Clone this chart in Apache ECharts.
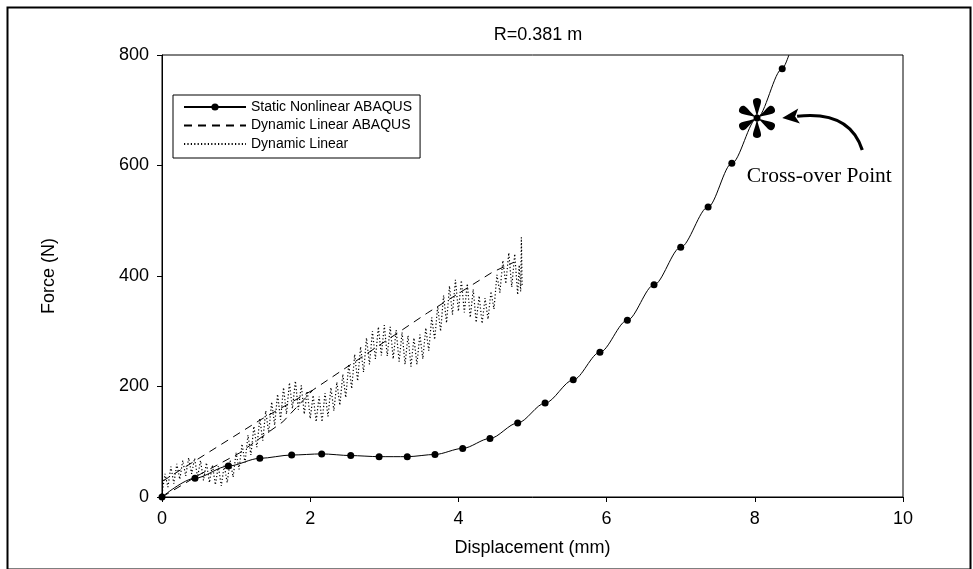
<!DOCTYPE html>
<html>
<head>
<meta charset="utf-8">
<script src="https://cdn.jsdelivr.net/npm/echarts@6/dist/echarts.min.js"></script>
<style>
html,body{margin:0;padding:0;background:#fff;}
#c{width:973px;height:569px;}
</style>
</head>
<body>
<div id="c"></div>
<script>
// ---- data ----
var titleText = 'R=0.381 m';
var xTicks = [0, 2, 4, 6, 8, 10];
var yTicks = [0, 200, 400, 600, 800];

// Static Nonlinear ABAQUS (markers)
var staticX = [0, 0.445, 0.895, 1.32, 1.75, 2.155, 2.547, 2.93, 3.31, 3.684, 4.058, 4.426, 4.80, 5.17, 5.55, 5.91, 6.28, 6.64, 7.00, 7.37, 7.69, 8.03, 8.37];
var staticY = [0, 34, 56, 70, 76, 78, 75, 73, 73, 77, 88, 106, 134, 170, 212, 262, 320, 384, 452, 525, 604, 686, 775];
// where the curve leaves the top of the plot
var staticExit = [8.46, 800];

// Dynamic Linear ABAQUS (dashed)
var abaqusX = [0, 0.5, 1.05, 1.63, 2.04, 3.58, 4.46, 4.75];
var abaqusY = [0, 40, 80, 136, 194, 333, 407, 425];
var abaqusUpperX = [0, 1.32, 2.04];
var abaqusUpperY = [28, 139, 194];

// Dynamic Linear (dotted, noisy)
var dynX = [0.00,0.04,0.08,0.12,0.16,0.20,0.24,0.28,0.32,0.36,0.40,0.44,0.48,0.52,0.56,0.60,0.64,0.68,0.72,0.76,
0.80,0.84,0.88,0.92,0.96,1.00,1.04,1.08,1.12,1.16,1.20,1.24,1.28,1.32,1.36,1.40,1.44,1.48,1.52,1.56,
1.60,1.64,1.68,1.72,1.76,1.80,1.84,1.88,1.92,1.96,2.00,2.04,2.08,2.12,2.16,2.20,2.24,2.28,2.32,2.36,
2.40,2.44,2.48,2.52,2.56,2.60,2.64,2.68,2.72,2.76,2.80,2.84,2.88,2.92,2.96,3.00,3.04,3.08,3.12,3.16,
3.20,3.24,3.28,3.32,3.36,3.40,3.44,3.48,3.52,3.56,3.60,3.64,3.68,3.72,3.76,3.80,3.84,3.88,3.92,3.96,
4.00,4.04,4.08,4.12,4.16,4.20,4.24,4.28,4.32,4.36,4.40,4.44,4.48,4.52,4.56,4.60,4.64,4.68,4.72,4.76,
4.80,4.82,4.84,4.85,4.86];
var dynY = [5,42,18,55,24,60,32,66,38,71,42,70,36,66,30,62,26,58,22,56,
20,57,26,66,36,80,50,96,62,112,76,128,90,142,102,156,116,172,130,186,
140,198,150,207,160,210,158,202,150,192,142,184,136,182,136,188,146,198,156,208,
166,222,180,240,196,258,210,272,226,288,240,300,250,308,256,311,255,308,250,302,
245,298,240,292,236,288,240,294,250,306,265,325,285,345,300,365,315,382,330,393,
336,392,334,386,325,376,316,364,314,360,322,372,340,402,370,428,386,442,380,440,
366,420,372,470,380];

// annotation
var crossPoint = [8.03, 686];
var crossLabelPos = [8.87, 581];
var arrowTail = [9.45, 628];
var arrowCtrl = [9.28, 700];
var arrowHead = [8.37, 686];
var crossLabel = 'Cross-over Point';

function pairs(xs, ys) { return xs.map(function (x, i) { return [x, ys[i]]; }); }

// six teardrop-spoked asterisk glyph
function asteriskPath() {
  var arm = [[0,0],[-0.05,-0.4],[-0.22,-0.7],[-0.2,-0.86],[-0.18,-1.04],[0.18,-1.04],[0.2,-0.86],[0.22,-0.7],[0.05,-0.4],[0,0]];
  var s = '';
  for (var k = 0; k < 6; k++) {
    var a = k * Math.PI / 3, c = Math.cos(a), sn = Math.sin(a);
    var p = arm.map(function (q) { return [(q[0]*c - q[1]*sn).toFixed(3), (q[0]*sn + q[1]*c).toFixed(3)]; });
    s += 'M' + p[0].join(' ');
    s += ' C' + p[1].join(' ') + ' ' + p[2].join(' ') + ' ' + p[3].join(' ');
    s += ' C' + p[4].join(' ') + ' ' + p[5].join(' ') + ' ' + p[6].join(' ');
    s += ' C' + p[7].join(' ') + ' ' + p[8].join(' ') + ' ' + p[9].join(' ') + ' Z ';
  }
  return 'path://' + s;
}

var staticData = pairs(staticX, staticY);
staticData.push({ value: staticExit, symbol: 'none' });

var FONT = 'Liberation Sans, Arial, sans-serif';
var chart = echarts.init(document.getElementById('c'), null, { renderer: 'canvas' });
var noSym = { color: 'transparent', borderWidth: 0 };
chart.setOption({
  animation: false,
  backgroundColor: '#fff',
  title: {
    text: titleText, left: 533, top: 21, textAlign: 'center',
    textStyle: { fontFamily: FONT, fontSize: 18, fontWeight: 'normal', color: '#000' }
  },
  legend: {
    orient: 'vertical', left: 173, top: 95,
    data: [
      { name: 'Static Nonlinear ABAQUS' },
      { name: 'Dynamic Linear ABAQUS', itemStyle: noSym },
      { name: 'Dynamic Linear', itemStyle: noSym }
    ],
    itemWidth: 62, itemHeight: 9, itemGap: 4.5,
    padding: [5, 8, 7, 10],
    borderColor: '#000', borderWidth: 1, borderRadius: 0,
    backgroundColor: '#fff',
    textStyle: { fontFamily: FONT, fontSize: 14, color: '#000' },
    selectedMode: false
  },
  grid: { left: 162, right: 70, top: 55, bottom: 72, show: true, borderColor: '#000', borderWidth: 1, backgroundColor: 'transparent' },
  xAxis: {
    type: 'value', min: 0, max: 10, interval: 2,
    name: 'Displacement (mm)', nameLocation: 'middle', nameGap: 42,
    nameTextStyle: { fontFamily: FONT, fontSize: 18, color: '#000' },
    axisLine: { onZero: false, lineStyle: { color: '#000', width: 1 } },
    axisTick: { show: true, inside: false, length: 5, lineStyle: { color: '#000' } },
    axisLabel: { fontFamily: FONT, fontSize: 18, color: '#000', margin: 13,
      formatter: function (v) { return xTicks.indexOf(v) >= 0 ? String(v) : ''; } },
    splitLine: { show: false }
  },
  yAxis: {
    type: 'value', min: 0, max: 800, interval: 200,
    name: 'Force (N)', nameLocation: 'middle', nameGap: 104, nameRotate: 90,
    nameTextStyle: { fontFamily: FONT, fontSize: 18, color: '#000' },
    axisLine: { show: true, onZero: false, lineStyle: { color: '#000', width: 1 } },
    axisTick: { show: true, inside: false, length: 5, lineStyle: { color: '#000' } },
    axisLabel: { fontFamily: FONT, fontSize: 18, color: '#000', margin: 13,
      formatter: function (v) { return yTicks.indexOf(v) >= 0 ? String(v) : ''; } },
    splitLine: { show: false }
  },
  series: [
    {
      name: 'Dynamic Linear', type: 'line', data: pairs(dynX, dynY),
      symbol: 'none', smooth: false, clip: true,
      lineStyle: { color: '#000', width: 1.2, type: [1.2, 2.2] },
      itemStyle: { color: '#000' }, z: 2
    },
    {
      name: 'Dynamic Linear ABAQUS', type: 'line', data: pairs(abaqusX, abaqusY),
      symbol: 'none', smooth: false,
      lineStyle: { color: '#000', width: 1, type: [8, 6] },
      itemStyle: { color: '#000' }, z: 3
    },
    {
      name: 'Dynamic Linear ABAQUS', type: 'line', data: pairs(abaqusUpperX, abaqusUpperY),
      symbol: 'none', smooth: false,
      lineStyle: { color: '#000', width: 1, type: [8, 6] },
      itemStyle: { color: '#000' }, z: 3
    },
    {
      name: 'Static Nonlinear ABAQUS', type: 'line', data: staticData,
      symbol: 'circle', symbolSize: 7, showAllSymbol: true, smooth: 0.3, smoothMonotone: 'x', clip: true,
      lineStyle: { color: '#000', width: 1 },
      itemStyle: { color: '#000', borderWidth: 0 }, z: 4
    },
    {
      name: 'annot', type: 'line', data: [], z: 6,
      markPoint: {
        silent: true, animation: false,
        data: [
          { coord: crossPoint, symbol: asteriskPath(), symbolSize: 40, symbolKeepAspect: true,
            itemStyle: { color: '#000' }, label: { show: false } },
          { coord: crossLabelPos, symbol: 'circle', symbolSize: 0,
            label: { show: true, position: 'inside', formatter: crossLabel,
              fontFamily: 'Liberation Serif, Times New Roman, serif', fontSize: 21.5, color: '#000' } }
        ]
      }
    }
  ]
});

// curved arrow + outer frame, placed through the chart's own coordinate conversion
var pT = chart.convertToPixel({ gridIndex: 0 }, arrowTail);
var pC = chart.convertToPixel({ gridIndex: 0 }, arrowCtrl);
var pH = chart.convertToPixel({ gridIndex: 0 }, arrowHead);
var dx = pH[0] - pC[0], dy = pH[1] - pC[1], L = Math.sqrt(dx * dx + dy * dy);
var ux = dx / L, uy = dy / L, headLen = 17, headHalf = 7.5;
var base = [pH[0] - ux * headLen, pH[1] - uy * headLen];
chart.setOption({
  graphic: [
    { type: 'rect', left: 5, top: 5, silent: true, z: 100,
      shape: { width: 963, height: 562 }, style: { fill: 'none', stroke: '#000', lineWidth: 2 } },
    { type: 'bezierCurve', silent: true, z: 100,
      shape: { x1: pT[0], y1: pT[1], cpx1: pC[0], cpy1: pC[1], x2: base[0] + ux * 2, y2: base[1] + uy * 2 },
      style: { stroke: '#000', lineWidth: 3.2, fill: 'none' } },
    { type: 'polygon', silent: true, z: 100,
      shape: { points: [pH, [base[0] - uy * headHalf, base[1] + ux * headHalf], [base[0] + ux * 4, base[1] + uy * 4], [base[0] + uy * headHalf, base[1] - ux * headHalf]] },
      style: { fill: '#000' } }
  ]
});
</script>
</body>
</html>
